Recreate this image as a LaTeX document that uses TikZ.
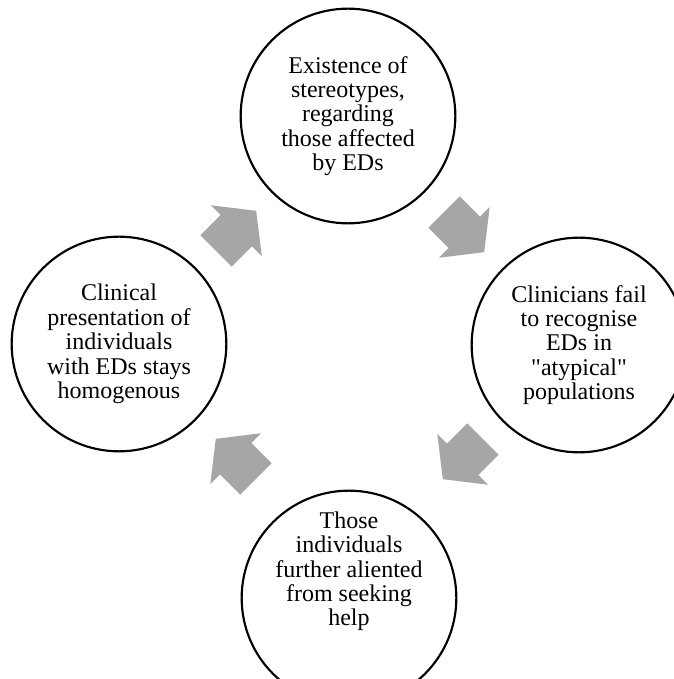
\documentclass[tikz,border=0pt]{standalone}
\usepackage{fontspec}
\setmainfont{Liberation Serif}[Ligatures=TeXOff]
\usepackage{tikz, xcolor}
\usetikzlibrary{calc, shapes.arrows}
\definecolor{arrowgray}{HTML}{A6A6A6}
\tikzset{stage/.style = {circle, draw, line width = 1.6pt, minimum size = 161pt,
    inner sep = 0pt, align = center, font = \fontsize{18}{18.3}\selectfont},
  stagetext/.style = {align = center, inner sep = 0pt, font = \fontsize{18}{18.3}\selectfont},
  cyclearrow/.style = {single arrow, fill = arrowgray, draw = none, inner xsep = 0pt,
    inner ysep = 16.5pt, minimum height = 42.5pt, single arrow head extend = 10.25pt,
    single arrow tip angle = 104}}

\begin{document}
\begin{tikzpicture}[x = 0.75pt, y = 0.75pt]
\path[use as bounding box] (0,0) rectangle (674,679);
\coordinate (T) at (348,563);
\coordinate (R) at (579,334);
\coordinate (B) at (349,81);
\coordinate (L) at (119,335);
\node[stage] (stereo) at (T) {Existence of\\ stereotypes,\\ regarding\\ those affected\\ by EDs};
\node[stage] (fail) at (R) {Clinicians fail\\ to recognise\\ EDs in\\ "atypical"\\ populations};
\node[stage] (alien) at (B) {};
\node[stagetext] (alientext) at ([yshift = 20pt]alien.center) {Those\\ individuals\\ further aliented\\ from seeking\\ help};
\node[stage] (homog) at (L) {Clinical\\ presentation of\\ individuals\\ with EDs stays\\ homogenous};
% arrows going round clockwise
\node[cyclearrow, rotate = 45] (a1) at (230,442) {};
\node[cyclearrow, rotate = -45] (a2) at (458,453) {};
\node[cyclearrow, rotate = -135] (a3) at (469,226) {};
\node[cyclearrow, rotate = 135] (a4) at (242,214) {};
\end{tikzpicture}
\end{document}
